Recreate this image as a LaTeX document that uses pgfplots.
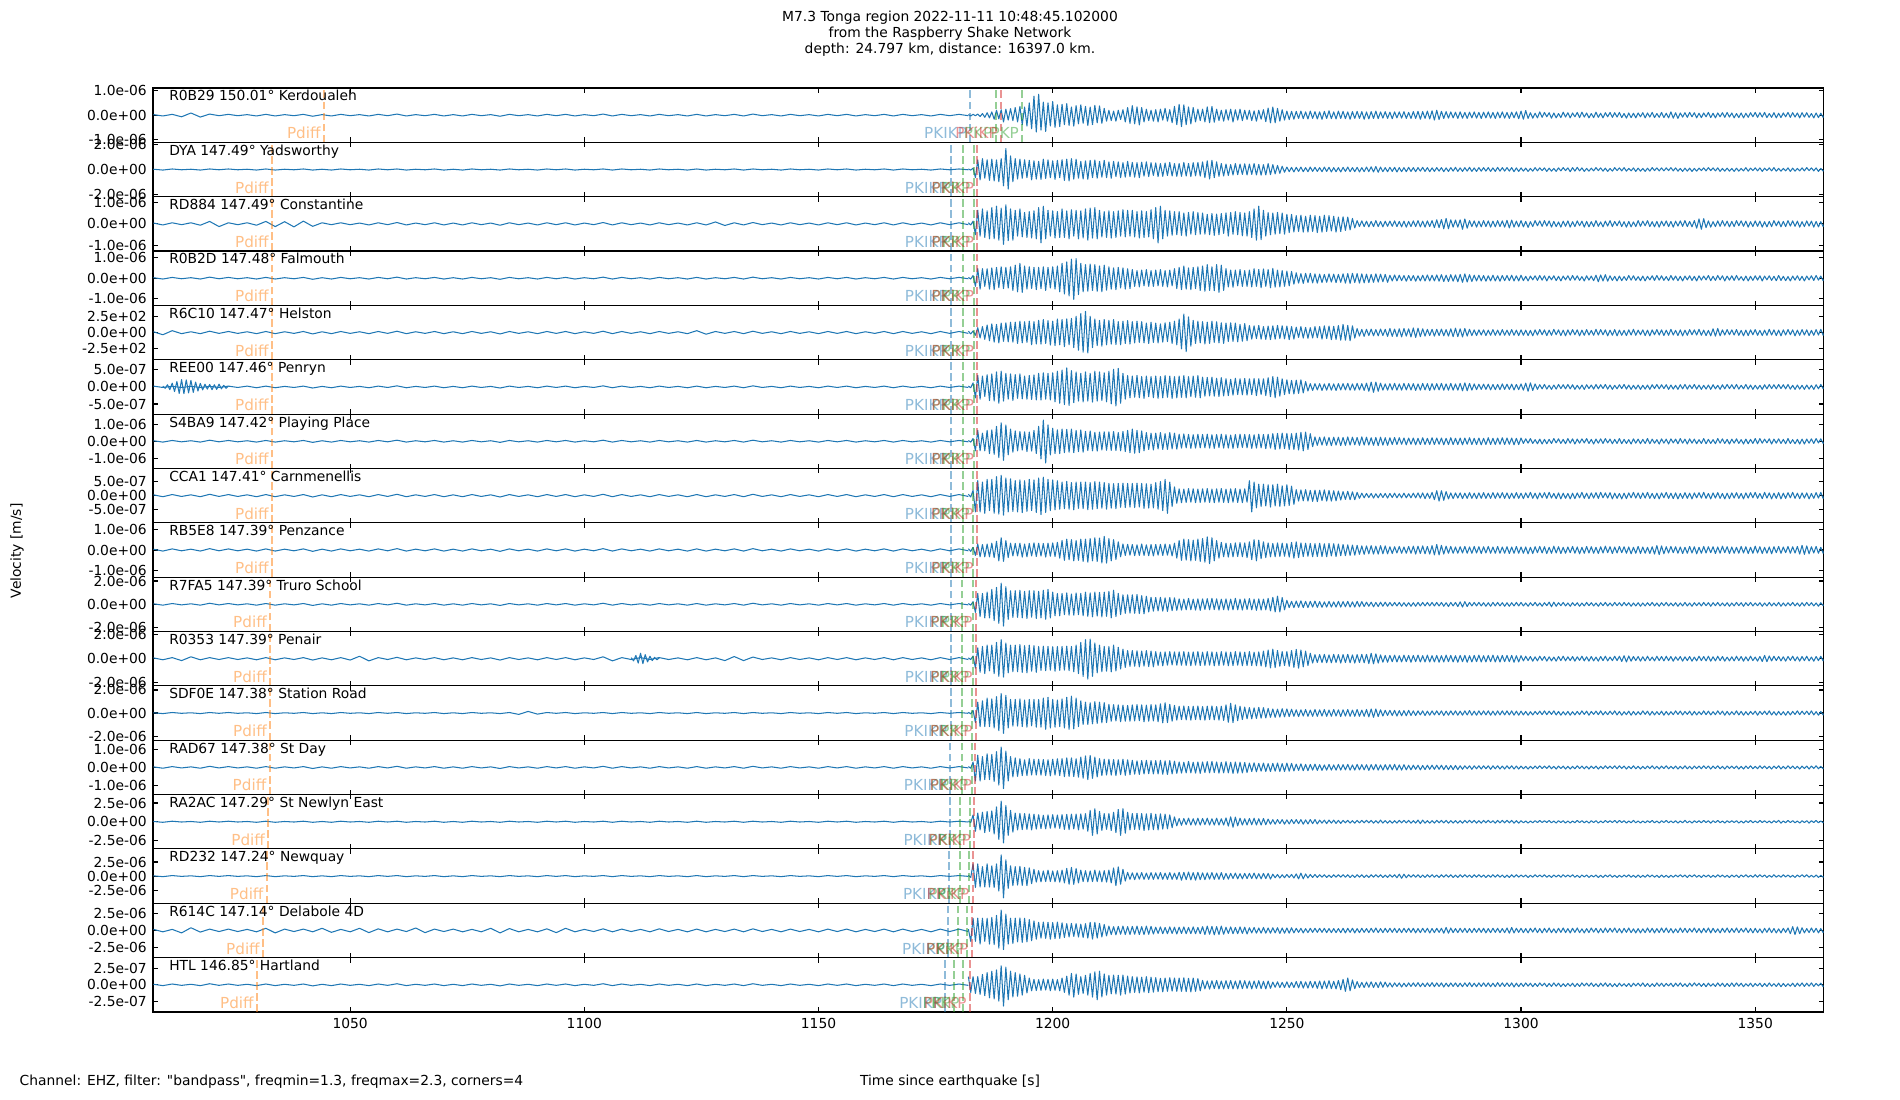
\documentclass[border=0pt]{standalone}
\usepackage{fontspec}
\setmainfont{DejaVu Sans}[Ligatures=TeXOff]
\usepackage{pgfplots}
\usepackage{pgfplotstable}
\pgfplotsset{compat=1.18}
\definecolor{wf}{HTML}{1F77B4}
\definecolor{orng}{HTML}{FF7F0E}
\definecolor{blu}{HTML}{1F77B4}
\definecolor{grn}{HTML}{2CA02C}
\definecolor{rd}{HTML}{D62728}

% ---------- pre-arrival noise, samples every 2 s from 1008 s ----------
\pgfplotstableread[header=false,row sep=\\]{
2\\-3\\3\\-2\\2\\-3\\4\\-2\\3\\-2\\2\\-3\\3\\-3\\2\\-2\\3\\-4\\2\\-3\\
3\\-2\\2\\-3\\3\\-2\\4\\-3\\2\\-2\\3\\-3\\2\\-3\\3\\-2\\2\\-4\\3\\-2\\
2\\-3\\3\\-2\\3\\-3\\2\\-2\\4\\-3\\3\\-2\\2\\-3\\3\\-2\\2\\-3\\3\\-3\\
2\\-2\\3\\-3\\4\\-2\\2\\-3\\3\\-2\\2\\-3\\3\\-2\\3\\-3\\2\\-2\\3\\-3\\
3\\-2\\2\\-3\\3\\-2\\3\\-2\\
}\nA
\pgfplotstableread[header=false,row sep=\\]{
1\\-2\\2\\-1\\1\\-2\\2\\-1\\2\\-1\\1\\-2\\2\\-2\\1\\-1\\2\\-2\\1\\-2\\
2\\-1\\1\\-2\\2\\-1\\2\\-2\\1\\-1\\2\\-2\\1\\-2\\2\\-1\\1\\-2\\2\\-1\\
1\\-2\\2\\-1\\2\\-2\\1\\-1\\2\\-2\\2\\-1\\1\\-2\\2\\-1\\1\\-2\\2\\-2\\
1\\-1\\2\\-2\\2\\-1\\1\\-2\\2\\-1\\1\\-2\\2\\-1\\2\\-2\\1\\-1\\2\\-2\\
2\\-1\\1\\-2\\2\\-1\\2\\-1\\
}\nB
\pgfplotstableread[header=false,row sep=\\]{
3\\-4\\4\\-3\\3\\-4\\5\\-3\\4\\-3\\3\\-4\\4\\-4\\3\\-3\\4\\-5\\3\\-4\\
4\\-3\\3\\-4\\4\\-3\\5\\-4\\3\\-3\\4\\-4\\3\\-4\\4\\-3\\3\\-5\\4\\-3\\
3\\-4\\4\\-3\\4\\-4\\3\\-3\\5\\-4\\4\\-3\\3\\-4\\4\\-3\\3\\-4\\4\\-4\\
3\\-3\\4\\-4\\5\\-3\\3\\-4\\4\\-3\\3\\-4\\4\\-3\\4\\-4\\3\\-3\\4\\-4\\
4\\-3\\3\\-4\\4\\-3\\4\\-3\\
}\nC
\pgfplotstableread[header=false,row sep=\\]{
2\\-3\\3\\-6\\8\\-7\\4\\-2\\3\\-2\\2\\-3\\3\\-3\\2\\-2\\3\\-4\\2\\-3\\
3\\-2\\2\\-3\\3\\-2\\4\\-3\\2\\-2\\3\\-3\\2\\-3\\3\\-2\\2\\-4\\3\\-2\\
2\\-3\\3\\-2\\3\\-3\\2\\-2\\4\\-3\\3\\-2\\2\\-3\\3\\-2\\2\\-3\\3\\-3\\
2\\-2\\3\\-3\\4\\-2\\2\\-3\\3\\-2\\2\\-3\\3\\-2\\3\\-3\\2\\-2\\3\\-3\\
3\\-2\\2\\-3\\3\\-2\\3\\-2\\
}\nPA
\pgfplotstableread[header=false,row sep=\\]{
3\\-4\\4\\-3\\4\\-5\\9\\-10\\4\\-3\\4\\-5\\9\\-10\\8\\-11\\10\\-9\\4\\-3\\
4\\-3\\3\\-4\\4\\-3\\5\\-4\\3\\-3\\4\\-4\\3\\-4\\4\\-3\\3\\-5\\4\\-3\\
3\\-4\\4\\-3\\4\\-4\\3\\-3\\5\\-4\\4\\-3\\3\\-4\\4\\-3\\3\\-4\\4\\-4\\
7\\-6\\4\\-4\\5\\-3\\3\\-4\\4\\-3\\3\\-4\\4\\-3\\4\\-4\\3\\-3\\4\\-4\\
4\\-3\\3\\-4\\4\\-3\\4\\-3\\
}\nPC
\pgfplotstableread[header=false,row sep=\\]{
3\\-8\\7\\-4\\3\\-4\\5\\-3\\4\\-3\\3\\-4\\4\\-4\\3\\-3\\4\\-5\\3\\-4\\
4\\-3\\3\\-4\\4\\-3\\5\\-4\\3\\-3\\4\\-4\\3\\-4\\4\\-3\\3\\-5\\4\\-3\\
3\\-4\\4\\-3\\4\\-4\\3\\-3\\5\\-4\\4\\-3\\3\\-4\\4\\-3\\3\\-4\\7\\-6\\
4\\-3\\4\\-4\\5\\-3\\3\\-4\\4\\-3\\3\\-4\\4\\-3\\4\\-4\\3\\-3\\4\\-4\\
4\\-3\\3\\-4\\4\\-3\\4\\-3\\
}\nPE
\pgfplotstableread[header=false,row sep=\\]{
3\\-2\\2\\-2\\2\\-2\\2\\-2\\3\\-2\\3\\-3\\3\\-3\\2\\-2\\3\\-4\\2\\-3\\
3\\-2\\2\\-3\\3\\-2\\4\\-3\\2\\-2\\3\\-3\\2\\-3\\3\\-2\\2\\-4\\3\\-2\\
2\\-3\\3\\-2\\3\\-3\\2\\-2\\4\\-3\\3\\-2\\2\\-3\\3\\-2\\2\\-3\\3\\-3\\
2\\-2\\3\\-3\\4\\-2\\2\\-3\\3\\-2\\2\\-3\\3\\-2\\3\\-3\\2\\-2\\3\\-3\\
3\\-2\\2\\-3\\3\\-2\\3\\-2\\
}\nPF
\pgfplotstableread[header=false,row sep=\\]{
3\\-4\\4\\-7\\7\\-4\\4\\-3\\4\\-3\\3\\-4\\4\\-4\\3\\-3\\4\\-5\\3\\-4\\
4\\-5\\9\\-8\\4\\-3\\5\\-4\\3\\-3\\4\\-4\\3\\-4\\4\\-3\\3\\-5\\4\\-3\\
3\\-4\\4\\-3\\4\\-4\\3\\-3\\7\\-8\\4\\-3\\4\\-3\\4\\-3\\3\\-4\\4\\-4\\
3\\-7\\8\\-7\\6\\-3\\3\\-4\\4\\-3\\3\\-4\\4\\-3\\4\\-4\\3\\-3\\4\\-4\\
4\\-3\\3\\-4\\4\\-3\\4\\-3\\
}\nPK
\pgfplotstableread[header=false,row sep=\\]{
1\\-2\\2\\-1\\1\\-2\\2\\-1\\2\\-1\\1\\-2\\2\\-2\\1\\-1\\2\\-2\\1\\-2\\
2\\-1\\1\\-2\\2\\-1\\2\\-2\\1\\-1\\2\\-2\\1\\-2\\2\\-1\\1\\-2\\2\\-5\\
6\\-4\\2\\-1\\2\\-2\\1\\-1\\2\\-2\\2\\-1\\1\\-2\\2\\-1\\1\\-2\\2\\-2\\
1\\-1\\2\\-2\\2\\-1\\1\\-2\\2\\-1\\1\\-2\\2\\-1\\2\\-2\\1\\-1\\2\\-2\\
2\\-1\\1\\-2\\2\\-1\\2\\-1\\
}\nPL
\pgfplotstableread[header=false,row sep=\\]{
4\\-5\\4\\-9\\10\\-6\\5\\-4\\5\\-4\\4\\-5\\8\\-9\\5\\-4\\5\\-5\\8\\-7\\
4\\-5\\8\\-8\\6\\-5\\5\\-4\\9\\-8\\5\\-4\\5\\-5\\4\\-5\\8\\-9\\7\\-5\\
4\\-5\\6\\-8\\8\\-5\\4\\-4\\6\\-5\\5\\-4\\4\\-5\\6\\-4\\4\\-5\\5\\-5\\
4\\-4\\5\\-5\\6\\-4\\4\\-5\\5\\-4\\4\\-5\\5\\-4\\5\\-5\\4\\-4\\5\\-5\\
5\\-4\\4\\-5\\5\\-4\\5\\-4\\
}\nPP
% ---------- short bursts in the pre-arrival noise, every 0.5 s ----------
\pgfplotstableread[header=false,row sep=\\]{
3\\-5\\8\\-10\\14\\-17\\20\\-24\\27\\-25\\26\\-22\\24\\-20\\18\\-15\\13\\-11\\10\\-8\\9\\-10\\8\\-9\\10\\-7\\6\\-5\\3\\
}\bPF
\pgfplotstableread[header=false,row sep=\\]{
4\\-8\\12\\-16\\20\\-18\\15\\-12\\9\\-7\\5\\-4\\3\\
}\bPK

% ---------- signal: every 0.5 s from 1182 s to 1365 s ----------
\pgfplotstableread[header=false,row sep=\\]{
2\\-3\\3\\-2\\4\\-5\\6\\-8\\9\\-10\\
12\\-15\\18\\-14\\20\\-25\\22\\-18\\24\\-20\\
28\\-25\\32\\-35\\30\\-40\\45\\-50\\70\\-62\\
77\\-55\\48\\-60\\45\\-40\\50\\-45\\38\\-42\\
40\\-35\\42\\-38\\30\\-40\\35\\-32\\38\\-30\\
32\\-38\\30\\-35\\36\\-28\\34\\-30\\25\\-22\\
18\\-20\\15\\-22\\18\\-16\\20\\-25\\28\\-30\\
35\\-32\\30\\-36\\28\\-25\\22\\-20\\18\\-22\\
20\\-25\\22\\-18\\25\\-22\\20\\-28\\32\\-35\\
40\\-42\\38\\-35\\30\\-32\\28\\-25\\22\\-20\\
22\\-25\\30\\-28\\32\\-26\\22\\-20\\18\\-22\\
20\\-18\\22\\-25\\20\\-18\\22\\-20\\18\\-16\\
18\\-20\\16\\-22\\18\\-15\\20\\-24\\26\\-28\\
30\\-28\\25\\-22\\20\\-18\\15\\-16\\14\\-15\\
14\\-12\\15\\-13\\12\\-14\\15\\-12\\13\\-14\\
12\\-15\\14\\-12\\16\\-13\\12\\-14\\15\\-12\\
14\\-13\\12\\-15\\13\\-12\\14\\-12\\13\\-15\\
12\\-14\\13\\-12\\15\\-13\\12\\-11\\13\\-12\\
11\\-13\\12\\-10\\12\\-11\\13\\-12\\10\\-12\\
13\\-12\\14\\-15\\13\\-12\\15\\-14\\16\\-18\\
18\\-16\\14\\-12\\13\\-11\\12\\-10\\11\\-12\\
12\\-11\\10\\-12\\11\\-10\\12\\-11\\10\\-12\\
11\\-10\\12\\-11\\10\\-12\\11\\-10\\12\\-11\\
10\\-12\\11\\-10\\12\\-13\\15\\
-15\\17\\-12\\9\\-11\\7\\-10\\12\\-8\\10\\
-6\\9\\-11\\8\\-10\\6\\-9\\11\\-7\\9\\
-10\\8\\-6\\10\\-9\\11\\-7\\8\\-10\\6\\
-9\\11\\-8\\7\\-10\\9\\-6\\10\\-8\\9\\
-7\\10\\-9\\6\\-11\\8\\-9\\7\\-10\\8\\
-6\\9\\-10\\8\\-7\\10\\-9\\6\\-8\\10\\
-9\\7\\-10\\12\\-11\\9\\-12\\8\\-7\\9\\
-8\\10\\-6\\9\\-10\\7\\-9\\8\\-6\\10\\
-9\\7\\-10\\8\\-6\\9\\-8\\10\\-7\\8\\
-10\\6\\-9\\8\\-10\\7\\-8\\9\\-6\\10\\
-8\\9\\-7\\10\\-9\\6\\-8\\9\\-10\\7\\
-9\\8\\-6\\10\\-8\\9\\-7\\8\\-10\\9\\
-7\\9\\-8\\6\\-10\\8\\-9\\7\\-8\\9\\
}\sigA
\pgfplotstableread[header=false,row sep=\\]{
2\\-2\\5\\-30\\35\\-38\\40\\-32\\36\\-40\\
38\\-42\\35\\-45\\40\\-60\\77\\-72\\50\\-45\\
40\\-35\\38\\-32\\36\\-30\\34\\-38\\32\\-35\\
30\\-36\\38\\-33\\35\\-30\\32\\-36\\34\\-30\\
36\\-40\\38\\-42\\40\\-35\\38\\-32\\30\\-35\\
32\\-36\\34\\-30\\35\\-32\\30\\-28\\34\\-30\\
28\\-32\\30\\-26\\28\\-30\\25\\-28\\30\\-26\\
26\\-28\\25\\-30\\27\\-24\\28\\-26\\25\\-22\\
24\\-26\\22\\-25\\24\\-22\\26\\-24\\22\\-25\\
22\\-25\\26\\-24\\22\\-26\\25\\-23\\26\\-24\\
28\\-30\\32\\-35\\34\\-30\\28\\-25\\22\\-24\\
20\\-22\\18\\-20\\22\\-19\\20\\-18\\21\\-20\\
20\\-18\\22\\-20\\19\\-21\\18\\-20\\22\\-19\\
18\\-16\\15\\-14\\12\\-10\\9\\-8\\8\\-9\\
8\\-7\\9\\-8\\7\\-8\\9\\-7\\8\\-7\\
7\\-8\\9\\-7\\8\\-9\\7\\-8\\7\\-9\\
8\\-7\\9\\-8\\7\\-8\\8\\-9\\7\\-8\\
9\\-8\\10\\-9\\11\\-10\\9\\-8\\7\\-8\\
8\\-7\\8\\-9\\7\\-8\\7\\-8\\8\\-7\\
7\\-8\\7\\-6\\8\\-7\\7\\-8\\6\\-7\\
7\\-6\\7\\-8\\6\\-7\\7\\-6\\8\\-7\\
6\\-7\\7\\-6\\8\\-7\\6\\-7\\7\\-6\\
7\\-6\\7\\-7\\6\\-7\\8\\-6\\7\\-6\\
7\\-6\\7\\-8\\6\\-7\\6\\
-6\\5\\-7\\4\\-6\\7\\-5\\6\\-4\\6\\
-7\\5\\-6\\4\\-7\\6\\-5\\7\\-4\\6\\
-8\\7\\-6\\8\\-5\\6\\-7\\4\\-6\\5\\
-5\\7\\-4\\6\\-6\\5\\-7\\4\\-6\\7\\
-4\\6\\-5\\7\\-6\\4\\-5\\6\\-7\\5\\
-6\\4\\-7\\5\\-6\\7\\-4\\6\\-5\\6\\
-5\\6\\-4\\7\\-5\\6\\-6\\4\\-7\\5\\
-6\\5\\-7\\4\\-6\\5\\-4\\6\\-5\\7\\
-4\\6\\-5\\6\\-7\\4\\-6\\5\\-6\\4\\
-7\\5\\-6\\4\\-5\\7\\-6\\5\\-4\\6\\
-5\\6\\-7\\5\\-4\\6\\-5\\7\\-6\\4\\
-6\\4\\-5\\6\\-7\\5\\-6\\4\\-5\\6\\
-5\\7\\-4\\6\\-5\\6\\-7\\4\\-6\\5\\
}\sigB
\pgfplotstableread[header=false,row sep=\\]{
4\\-4\\10\\-40\\50\\-45\\55\\-50\\48\\-55\\
60\\-55\\65\\-60\\58\\-75\\70\\-62\\55\\-60\\
50\\-45\\55\\-48\\42\\-50\\45\\-52\\48\\-55\\
60\\-70\\65\\-55\\50\\-45\\48\\-52\\45\\-50\\
55\\-50\\48\\-55\\52\\-45\\50\\-55\\48\\-52\\
55\\-60\\58\\-52\\60\\-55\\50\\-48\\45\\-50\\
48\\-52\\45\\-50\\48\\-45\\52\\-48\\50\\-45\\
50\\-48\\45\\-52\\48\\-50\\45\\-48\\52\\-55\\
60\\-70\\65\\-55\\50\\-45\\48\\-42\\45\\-40\\
45\\-42\\40\\-45\\42\\-38\\45\\-40\\42\\-38\\
40\\-38\\35\\-40\\38\\-42\\36\\-40\\38\\-35\\
40\\-45\\42\\-38\\45\\-40\\42\\-44\\40\\-45\\
45\\-50\\55\\-60\\65\\-58\\50\\-45\\42\\-40\\
40\\-38\\42\\-36\\40\\-38\\35\\-32\\35\\-30\\
30\\-28\\32\\-30\\28\\-30\\32\\-28\\30\\-32\\
28\\-30\\32\\-28\\30\\-26\\28\\-30\\25\\-28\\
26\\-24\\25\\-22\\20\\-15\\12\\-10\\11\\-10\\
10\\-11\\9\\-10\\12\\-10\\9\\-11\\10\\-9\\
10\\-9\\11\\-10\\9\\-11\\10\\-12\\9\\-10\\
11\\-10\\12\\-11\\10\\-12\\11\\-10\\12\\-14\\
15\\-14\\16\\-18\\20\\-18\\15\\-12\\14\\-12\\
15\\-20\\18\\-16\\12\\-10\\11\\-12\\10\\-11\\
12\\-10\\11\\-12\\10\\-11\\12\\-10\\11\\-12\\
13\\-15\\14\\-12\\10\\-11\\12\\
-11\\9\\-13\\8\\-10\\12\\-7\\11\\-9\\12\\
-8\\11\\-12\\9\\-10\\7\\-12\\10\\-9\\11\\
-12\\8\\-10\\11\\-7\\10\\-12\\9\\-11\\8\\
-10\\12\\-9\\7\\-11\\10\\-8\\12\\-10\\9\\
-7\\11\\-10\\8\\-12\\9\\-11\\7\\-10\\12\\
-9\\10\\-7\\12\\-10\\8\\-11\\9\\-12\\10\\
-8\\11\\-10\\9\\-12\\10\\-8\\11\\-9\\12\\
-10\\9\\-11\\12\\-16\\18\\-20\\19\\-14\\11\\
-12\\8\\-10\\11\\-9\\12\\-8\\10\\-11\\9\\
-10\\12\\-7\\11\\-9\\10\\-12\\8\\-10\\11\\
-9\\10\\-12\\8\\-11\\9\\-10\\12\\-7\\10\\
-11\\9\\-10\\12\\-8\\11\\-9\\10\\-12\\8\\
-10\\11\\-8\\10\\-12\\9\\-11\\8\\-10\\11\\
}\sigC
\pgfplotstableread[header=false,row sep=\\]{
3\\-3\\10\\-30\\35\\-40\\35\\-30\\35\\-40\\
38\\-42\\40\\-35\\42\\-38\\40\\-36\\42\\-45\\
48\\-50\\55\\-52\\45\\-40\\42\\-38\\40\\-42\\
40\\-38\\42\\-45\\40\\-36\\42\\-40\\45\\-50\\
55\\-58\\60\\-65\\70\\-78\\72\\-60\\55\\-50\\
50\\-48\\52\\-45\\50\\-48\\45\\-50\\48\\-44\\
42\\-40\\38\\-42\\40\\-36\\38\\-40\\35\\-38\\
32\\-30\\28\\-32\\30\\-28\\32\\-30\\28\\-30\\
30\\-28\\32\\-30\\28\\-32\\30\\-28\\35\\-38\\
40\\-42\\45\\-40\\38\\-42\\40\\-38\\42\\-45\\
45\\-48\\50\\-45\\42\\-46\\50\\-52\\48\\-45\\
35\\-32\\30\\-33\\30\\-28\\32\\-30\\28\\-30\\
30\\-32\\35\\-30\\32\\-35\\34\\-30\\32\\-35\\
36\\-33\\30\\-32\\28\\-30\\26\\-28\\25\\-22\\
20\\-18\\17\\-19\\18\\-16\\18\\-17\\16\\-18\\
15\\-16\\14\\-15\\16\\-14\\15\\-16\\14\\-15\\
16\\-18\\17\\-19\\18\\-16\\17\\-18\\16\\-17\\
15\\-16\\14\\-15\\16\\-14\\15\\-13\\14\\-15\\
11\\-10\\12\\-10\\11\\-9\\10\\-11\\10\\-9\\
10\\-11\\9\\-10\\11\\-10\\12\\-10\\11\\-10\\
12\\-11\\13\\-12\\11\\-12\\13\\-11\\12\\-13\\
14\\-15\\16\\-14\\13\\-12\\11\\-10\\11\\-10\\
10\\-11\\9\\-10\\11\\-10\\9\\-11\\10\\-9\\
10\\-9\\11\\-10\\9\\-10\\11\\
-9\\7\\-10\\8\\-6\\9\\-8\\10\\-7\\9\\
-10\\8\\-6\\9\\-9\\7\\-10\\8\\-6\\9\\
-8\\10\\-7\\9\\-8\\6\\-10\\9\\-7\\8\\
-9\\11\\-13\\12\\-10\\13\\-11\\9\\-8\\7\\
-10\\8\\-9\\6\\-8\\10\\-7\\9\\-8\\6\\
-9\\8\\-10\\7\\-6\\9\\-8\\10\\-7\\9\\
-8\\6\\-9\\10\\-7\\8\\-9\\7\\-10\\8\\
-6\\9\\-8\\7\\-10\\9\\-7\\8\\-6\\10\\
-9\\7\\-8\\10\\-6\\9\\-10\\8\\-7\\9\\
-8\\10\\-7\\6\\-9\\8\\-10\\7\\-8\\9\\
-7\\9\\-10\\8\\-6\\9\\-8\\7\\-9\\10\\
-8\\7\\-9\\6\\-10\\8\\-7\\9\\-8\\7\\
-10\\8\\-6\\9\\-8\\10\\-7\\8\\-9\\6\\
}\sigD
\pgfplotstableread[header=false,row sep=\\]{
5\\-5\\6\\-10\\18\\-20\\22\\-25\\28\\-30\\
32\\-35\\30\\-38\\35\\-32\\36\\-34\\38\\-35\\
38\\-40\\42\\-38\\40\\-36\\42\\-45\\40\\-42\\
45\\-42\\48\\-40\\44\\-46\\42\\-48\\50\\-45\\
48\\-52\\50\\-45\\52\\-55\\60\\-65\\70\\-72\\
78\\-75\\60\\-55\\50\\-48\\45\\-50\\48\\-45\\
45\\-42\\48\\-44\\40\\-45\\42\\-40\\44\\-42\\
40\\-38\\42\\-36\\40\\-38\\35\\-40\\38\\-36\\
35\\-38\\32\\-35\\36\\-33\\38\\-40\\42\\-45\\
50\\-60\\68\\-70\\58\\-50\\45\\-40\\42\\-38\\
40\\-42\\38\\-40\\42\\-36\\40\\-38\\36\\-40\\
35\\-33\\36\\-32\\35\\-34\\30\\-32\\33\\-30\\
26\\-24\\25\\-22\\26\\-24\\22\\-25\\24\\-26\\
25\\-24\\26\\-22\\25\\-23\\24\\-26\\22\\-24\\
20\\-18\\22\\-20\\19\\-21\\18\\-20\\22\\-19\\
22\\-24\\25\\-22\\24\\-26\\23\\-25\\26\\-28\\
30\\-28\\26\\-30\\25\\-20\\15\\-13\\12\\-14\\
12\\-11\\13\\-12\\11\\-12\\13\\-11\\12\\-14\\
15\\-14\\13\\-15\\14\\-16\\15\\-13\\14\\-16\\
17\\-18\\16\\-15\\14\\-13\\12\\-11\\12\\-13\\
12\\-11\\13\\-12\\11\\-13\\14\\-15\\16\\-15\\
14\\-16\\15\\-13\\12\\-11\\10\\-11\\10\\-9\\
10\\-11\\9\\-10\\11\\-10\\9\\-10\\11\\-10\\
9\\-10\\11\\-10\\9\\-11\\10\\
-10\\9\\-11\\8\\-12\\10\\-9\\11\\-8\\10\\
-11\\9\\-10\\12\\-8\\10\\-11\\9\\-12\\10\\
-9\\11\\-8\\10\\-12\\9\\-10\\11\\-9\\8\\
-10\\12\\-9\\11\\-8\\10\\-12\\9\\-10\\11\\
-12\\9\\-10\\8\\-11\\10\\-9\\12\\-10\\9\\
-8\\10\\-11\\9\\-12\\10\\-8\\11\\-9\\10\\
-11\\9\\-10\\12\\-9\\8\\-11\\10\\-12\\9\\
-10\\11\\-8\\10\\-9\\12\\-10\\9\\-11\\8\\
-12\\14\\-13\\15\\-12\\10\\-9\\11\\-8\\10\\
-9\\11\\-10\\8\\-12\\9\\-11\\10\\-8\\11\\
-10\\8\\-11\\9\\-10\\12\\-9\\10\\-11\\9\\
-12\\10\\-9\\11\\-8\\10\\-12\\9\\-10\\11\\
-9\\10\\-11\\8\\-10\\11\\-9\\12\\-10\\9\\
}\sigE
\pgfplotstableread[header=false,row sep=\\]{
3\\-3\\15\\-40\\42\\-45\\40\\-35\\45\\-50\\
48\\-52\\55\\-60\\58\\-52\\50\\-45\\48\\-50\\
45\\-42\\48\\-44\\40\\-45\\42\\-46\\44\\-48\\
50\\-48\\52\\-45\\50\\-48\\52\\-55\\58\\-60\\
62\\-65\\70\\-68\\60\\-58\\55\\-52\\50\\-55\\
55\\-52\\50\\-56\\58\\-52\\55\\-50\\52\\-55\\
58\\-62\\65\\-70\\68\\-60\\50\\-45\\42\\-40\\
40\\-38\\42\\-40\\38\\-42\\40\\-36\\38\\-40\\
40\\-42\\38\\-40\\42\\-38\\40\\-42\\38\\-40\\
40\\-38\\42\\-40\\38\\-36\\40\\-38\\42\\-40\\
36\\-34\\35\\-33\\36\\-34\\32\\-35\\34\\-33\\
30\\-32\\28\\-30\\32\\-28\\30\\-29\\31\\-30\\
30\\-28\\31\\-32\\30\\-28\\30\\-32\\34\\-36\\
38\\-40\\36\\-34\\30\\-28\\26\\-25\\24\\-26\\
25\\-24\\26\\-22\\20\\-15\\12\\-13\\12\\-11\\
12\\-13\\11\\-12\\13\\-12\\11\\-13\\12\\-11\\
12\\-11\\13\\-12\\11\\-12\\13\\-11\\12\\-13\\
14\\-16\\18\\-20\\18\\-16\\14\\-12\\11\\-12\\
12\\-11\\13\\-12\\11\\-12\\13\\-11\\12\\-11\\
12\\-13\\11\\-12\\13\\-11\\12\\-13\\12\\-11\\
12\\-11\\13\\-12\\11\\-12\\13\\-12\\11\\-12\\
13\\-14\\15\\-14\\13\\-12\\11\\-10\\10\\-9\\
10\\-9\\10\\-11\\9\\-10\\9\\-10\\11\\-9\\
10\\-9\\10\\-11\\9\\-10\\11\\
-12\\14\\-16\\15\\-13\\11\\-9\\8\\-7\\9\\
-8\\6\\-9\\7\\-8\\9\\-6\\8\\-7\\9\\
-7\\8\\-9\\6\\-8\\7\\-9\\8\\-6\\7\\
-8\\9\\-7\\8\\-6\\9\\-8\\7\\-9\\6\\
-7\\8\\-6\\9\\-8\\7\\-9\\6\\-8\\7\\
-9\\6\\-8\\7\\-9\\8\\-6\\9\\-7\\8\\
-6\\8\\-9\\7\\-8\\6\\-9\\8\\-7\\9\\
-8\\7\\-6\\9\\-8\\7\\-9\\6\\-8\\7\\
-9\\8\\-7\\6\\-9\\8\\-7\\9\\-6\\8\\
-7\\9\\-8\\6\\-7\\9\\-8\\7\\-9\\6\\
-8\\6\\-9\\8\\-7\\9\\-6\\8\\-7\\9\\
-6\\8\\-7\\9\\-8\\6\\-9\\7\\-8\\6\\
-9\\7\\-8\\6\\-9\\8\\-7\\9\\-6\\8\\
}\sigF
\pgfplotstableread[header=false,row sep=\\]{
3\\-3\\10\\-35\\40\\-35\\30\\-35\\40\\-45\\
42\\-48\\55\\-60\\68\\-70\\60\\-50\\45\\-40\\
38\\-35\\36\\-32\\35\\-38\\34\\-36\\40\\-45\\
55\\-65\\78\\-80\\60\\-50\\48\\-45\\42\\-45\\
45\\-42\\44\\-40\\45\\-42\\40\\-38\\42\\-40\\
36\\-34\\38\\-35\\33\\-36\\34\\-32\\35\\-33\\
35\\-33\\36\\-34\\32\\-35\\36\\-38\\40\\-42\\
45\\-44\\40\\-42\\38\\-35\\32\\-30\\30\\-32\\
30\\-28\\32\\-30\\28\\-30\\32\\-28\\30\\-29\\
26\\-25\\27\\-24\\25\\-26\\24\\-25\\26\\-24\\
25\\-24\\26\\-25\\24\\-26\\25\\-23\\26\\-25\\
24\\-25\\23\\-26\\25\\-24\\26\\-23\\25\\-24\\
25\\-26\\24\\-25\\26\\-24\\25\\-27\\26\\-25\\
28\\-30\\29\\-28\\30\\-27\\29\\-30\\28\\-30\\
30\\-32\\33\\-35\\34\\-30\\28\\-20\\16\\-15\\
15\\-14\\16\\-15\\14\\-16\\15\\-14\\15\\-16\\
14\\-15\\16\\-14\\15\\-13\\14\\-15\\16\\-14\\
15\\-14\\13\\-15\\14\\-16\\15\\-14\\13\\-15\\
13\\-12\\14\\-12\\13\\-11\\12\\-13\\12\\-11\\
12\\-13\\11\\-12\\13\\-12\\11\\-12\\13\\-12\\
12\\-11\\12\\-13\\11\\-12\\13\\-12\\11\\-12\\
12\\-13\\12\\-11\\13\\-12\\11\\-12\\12\\-13\\
11\\-12\\13\\-12\\11\\-12\\12\\-11\\13\\-12\\
12\\-11\\12\\-13\\11\\-12\\12\\
-8\\9\\-7\\10\\-8\\6\\-9\\8\\-10\\7\\
-9\\7\\-8\\10\\-6\\9\\-8\\7\\-9\\10\\
-7\\9\\-10\\8\\-7\\9\\-6\\10\\-8\\7\\
-10\\8\\-7\\9\\-8\\10\\-6\\8\\-9\\7\\
-8\\10\\-9\\7\\-8\\6\\-10\\9\\-7\\8\\
-9\\7\\-8\\10\\-9\\8\\-7\\6\\-10\\9\\
-7\\8\\-10\\9\\-6\\8\\-9\\10\\-7\\8\\
-10\\9\\-7\\8\\-9\\6\\-8\\10\\-9\\7\\
-8\\6\\-9\\10\\-7\\9\\-8\\7\\-10\\8\\
-7\\9\\-8\\6\\-10\\8\\-9\\7\\-8\\10\\
-9\\10\\-7\\8\\-6\\9\\-10\\8\\-7\\9\\
-8\\7\\-9\\10\\-8\\6\\-9\\7\\-10\\8\\
-10\\8\\-7\\9\\-8\\10\\-6\\9\\-8\\7\\
}\sigG
\pgfplotstableread[header=false,row sep=\\]{
5\\-5\\20\\-60\\55\\-60\\50\\-65\\60\\-55\\
60\\-65\\70\\-68\\75\\-72\\65\\-60\\62\\-58\\
55\\-60\\58\\-62\\55\\-58\\60\\-55\\58\\-62\\
65\\-70\\68\\-62\\60\\-55\\58\\-52\\55\\-50\\
50\\-48\\52\\-50\\48\\-52\\50\\-47\\50\\-48\\
50\\-52\\48\\-50\\52\\-48\\50\\-46\\48\\-50\\
45\\-46\\44\\-48\\45\\-43\\46\\-44\\45\\-42\\
45\\-44\\46\\-42\\45\\-47\\44\\-46\\42\\-45\\
48\\-50\\52\\-55\\60\\-65\\50\\-40\\32\\-28\\
25\\-26\\24\\-25\\26\\-24\\25\\-26\\24\\-25\\
25\\-24\\26\\-25\\24\\-26\\25\\-24\\26\\-25\\
24\\-26\\25\\-24\\26\\-25\\24\\-26\\25\\-24\\
55\\-60\\50\\-45\\42\\-40\\42\\-38\\40\\-42\\
40\\-38\\42\\-40\\36\\-38\\40\\-36\\35\\-32\\
22\\-20\\21\\-19\\22\\-20\\19\\-21\\20\\-22\\
20\\-18\\21\\-20\\19\\-20\\18\\-19\\17\\-16\\
15\\-14\\16\\-15\\14\\-15\\12\\-10\\9\\-8\\
8\\-7\\8\\-9\\7\\-8\\8\\-7\\8\\-9\\
8\\-7\\9\\-8\\7\\-8\\9\\-8\\7\\-8\\
9\\-8\\10\\-9\\10\\-11\\9\\-10\\12\\-15\\
18\\-20\\18\\-17\\15\\-12\\10\\-11\\10\\-9\\
10\\-11\\9\\-10\\11\\-10\\9\\-11\\10\\-10\\
11\\-10\\9\\-10\\11\\-10\\10\\-9\\11\\-10\\
10\\-11\\9\\-10\\11\\-10\\9\\
-11\\10\\-8\\12\\-10\\9\\-12\\10\\-8\\11\\
-10\\12\\-9\\8\\-11\\10\\-12\\9\\-10\\8\\
-12\\9\\-11\\10\\-8\\12\\-10\\9\\-11\\10\\
-9\\11\\-10\\12\\-8\\10\\-9\\11\\-12\\9\\
-10\\8\\-12\\9\\-11\\10\\-8\\12\\-9\\10\\
-11\\10\\-9\\12\\-10\\8\\-11\\9\\-12\\10\\
-8\\12\\-10\\9\\-11\\10\\-12\\8\\-10\\11\\
-10\\9\\-12\\10\\-8\\11\\-9\\12\\-10\\8\\
-12\\10\\-9\\11\\-10\\8\\-12\\9\\-11\\10\\
-9\\11\\-10\\8\\-12\\10\\-9\\11\\-8\\12\\
-10\\8\\-11\\12\\-9\\10\\-12\\9\\-10\\11\\
-12\\9\\-10\\11\\-8\\12\\-10\\9\\-11\\10\\
-9\\10\\-12\\8\\-10\\11\\-9\\12\\-10\\9\\
}\sigH
\pgfplotstableread[header=false,row sep=\\]{
5\\-5\\10\\-20\\22\\-25\\20\\-25\\22\\-25\\
25\\-28\\32\\-40\\45\\-42\\35\\-28\\25\\-22\\
24\\-22\\25\\-26\\22\\-25\\24\\-22\\26\\-24\\
25\\-22\\24\\-26\\25\\-23\\26\\-24\\28\\-30\\
35\\-38\\40\\-36\\38\\-40\\35\\-38\\40\\-42\\
40\\-45\\42\\-40\\45\\-42\\44\\-48\\50\\-48\\
42\\-40\\38\\-35\\30\\-25\\22\\-20\\21\\-19\\
20\\-21\\19\\-20\\22\\-20\\19\\-21\\20\\-22\\
20\\-19\\21\\-20\\22\\-19\\20\\-22\\25\\-30\\
35\\-38\\40\\-37\\38\\-40\\36\\-38\\40\\-42\\
42\\-45\\48\\-50\\45\\-40\\35\\-30\\28\\-25\\
25\\-26\\24\\-25\\26\\-24\\27\\-25\\26\\-28\\
30\\-35\\38\\-40\\36\\-32\\30\\-28\\26\\-25\\
24\\-25\\26\\-24\\25\\-23\\24\\-26\\28\\-30\\
30\\-28\\26\\-24\\25\\-23\\24\\-25\\23\\-24\\
25\\-24\\23\\-25\\24\\-22\\23\\-24\\22\\-21\\
20\\-21\\19\\-20\\18\\-19\\17\\-16\\15\\-16\\
15\\-14\\16\\-15\\14\\-15\\16\\-14\\15\\-14\\
12\\-13\\12\\-11\\13\\-12\\11\\-12\\13\\-12\\
14\\-15\\14\\-13\\15\\-14\\13\\-15\\16\\-18\\
20\\-18\\17\\-15\\14\\-12\\13\\-12\\11\\-12\\
12\\-11\\13\\-12\\11\\-12\\13\\-11\\12\\-13\\
12\\-11\\13\\-12\\11\\-12\\13\\-12\\11\\-12\\
12\\-13\\11\\-12\\13\\-12\\11\\
-12\\11\\-14\\10\\-13\\12\\-10\\13\\-11\\12\\
-13\\10\\-12\\14\\-11\\12\\-13\\10\\-12\\11\\
-10\\13\\-12\\11\\-14\\10\\-12\\13\\-11\\12\\
-12\\10\\-13\\12\\-11\\14\\-10\\12\\-13\\11\\
-11\\13\\-10\\12\\-12\\11\\-14\\10\\-12\\13\\
-13\\11\\-12\\10\\-13\\12\\-15\\16\\-17\\15\\
-14\\12\\-11\\13\\-10\\12\\-12\\11\\-13\\10\\
-12\\13\\-11\\12\\-14\\10\\-12\\13\\-11\\12\\
-10\\12\\-13\\11\\-12\\14\\-10\\12\\-13\\11\\
-12\\10\\-12\\13\\-11\\12\\-13\\10\\-12\\14\\
-11\\12\\-13\\10\\-12\\11\\-14\\12\\-10\\13\\
-12\\11\\-10\\13\\-12\\12\\-11\\13\\-15\\17\\
-16\\15\\-14\\12\\-11\\13\\-12\\10\\-12\\11\\
}\sigI
\pgfplotstableread[header=false,row sep=\\]{
3\\-3\\10\\-30\\40\\-45\\40\\-50\\45\\-50\\
55\\-60\\62\\-70\\78\\-80\\65\\-55\\50\\-48\\
50\\-48\\52\\-50\\48\\-52\\50\\-47\\50\\-52\\
48\\-50\\52\\-55\\55\\-50\\45\\-42\\40\\-42\\
40\\-38\\42\\-40\\38\\-40\\42\\-38\\40\\-42\\
45\\-44\\42\\-46\\45\\-43\\44\\-46\\45\\-44\\
48\\-50\\52\\-45\\40\\-38\\35\\-33\\35\\-32\\
35\\-33\\36\\-34\\32\\-35\\30\\-28\\26\\-25\\
25\\-24\\26\\-25\\24\\-26\\25\\-23\\24\\-22\\
20\\-21\\19\\-20\\22\\-20\\19\\-21\\20\\-22\\
20\\-19\\21\\-20\\22\\-19\\20\\-21\\19\\-20\\
20\\-21\\19\\-20\\22\\-20\\19\\-21\\20\\-19\\
21\\-20\\19\\-22\\20\\-21\\19\\-20\\22\\-24\\
26\\-28\\30\\-28\\25\\-20\\15\\-12\\11\\-12\\
12\\-11\\13\\-12\\11\\-12\\11\\-10\\12\\-11\\
10\\-11\\9\\-10\\11\\-10\\9\\-10\\11\\-10\\
10\\-9\\11\\-10\\9\\-10\\11\\-9\\10\\-8\\
8\\-7\\8\\-9\\7\\-8\\8\\-7\\8\\-7\\
7\\-6\\7\\-6\\7\\-7\\6\\-7\\6\\-7\\
6\\-7\\7\\-6\\7\\-6\\7\\-6\\7\\-6\\
7\\-6\\7\\-7\\6\\-8\\7\\-6\\7\\-8\\
9\\-10\\10\\-8\\7\\-6\\7\\-6\\7\\-6\\
6\\-7\\6\\-7\\7\\-6\\7\\-6\\6\\-7\\
6\\-7\\6\\-6\\7\\-6\\7\\
-6\\5\\-7\\6\\-5\\7\\-6\\5\\-7\\6\\
-5\\8\\-9\\8\\-7\\6\\-5\\7\\-6\\5\\
-7\\6\\-5\\6\\-7\\5\\-6\\7\\-5\\6\\
-6\\5\\-7\\6\\-5\\7\\-6\\5\\-6\\7\\
-5\\6\\-6\\7\\-5\\6\\-7\\5\\-6\\6\\
-7\\5\\-6\\6\\-5\\7\\-6\\5\\-7\\6\\
-5\\7\\-6\\5\\-6\\6\\-7\\5\\-6\\7\\
-6\\5\\-7\\6\\-5\\6\\-6\\7\\-5\\6\\
-7\\6\\-5\\7\\-6\\5\\-6\\6\\-7\\5\\
-6\\7\\-5\\6\\-7\\6\\-5\\7\\-6\\5\\
-5\\6\\-7\\5\\-6\\7\\-6\\5\\-6\\7\\
-7\\5\\-6\\6\\-5\\7\\-6\\5\\-7\\6\\
-6\\7\\-5\\6\\-6\\5\\-7\\6\\-5\\6\\
}\sigJ
\pgfplotstableread[header=false,row sep=\\]{
3\\-3\\10\\-35\\40\\-50\\45\\-55\\50\\-45\\
50\\-55\\60\\-65\\70\\-68\\58\\-52\\50\\-48\\
50\\-48\\52\\-50\\48\\-52\\50\\-46\\48\\-50\\
45\\-43\\46\\-44\\45\\-42\\44\\-46\\45\\-43\\
45\\-42\\46\\-44\\45\\-48\\50\\-55\\60\\-65\\
70\\-75\\72\\-65\\58\\-52\\50\\-48\\45\\-46\\
45\\-48\\50\\-45\\42\\-38\\35\\-32\\30\\-28\\
30\\-28\\29\\-30\\28\\-27\\30\\-29\\28\\-30\\
26\\-25\\24\\-26\\25\\-24\\26\\-23\\25\\-24\\
25\\-24\\26\\-25\\24\\-26\\25\\-24\\26\\-25\\
24\\-25\\26\\-24\\25\\-26\\24\\-25\\26\\-24\\
25\\-26\\24\\-25\\26\\-24\\25\\-26\\24\\-25\\
26\\-25\\24\\-26\\25\\-27\\28\\-30\\32\\-34\\
35\\-33\\30\\-28\\26\\-25\\26\\-28\\30\\-32\\
34\\-35\\32\\-30\\28\\-25\\20\\-16\\15\\-14\\
15\\-14\\16\\-15\\14\\-15\\16\\-14\\15\\-16\\
15\\-14\\16\\-15\\14\\-16\\15\\-14\\16\\-15\\
16\\-18\\20\\-19\\18\\-16\\14\\-13\\12\\-13\\
12\\-11\\13\\-12\\11\\-12\\13\\-11\\12\\-13\\
12\\-11\\13\\-12\\11\\-12\\13\\-12\\11\\-12\\
12\\-13\\11\\-12\\13\\-11\\12\\-12\\11\\-13\\
12\\-11\\12\\-13\\11\\-12\\12\\-11\\13\\-12\\
11\\-12\\12\\-11\\13\\-12\\11\\-12\\12\\-11\\
12\\-11\\12\\-13\\11\\-12\\11\\
-8\\9\\-7\\8\\-9\\7\\-8\\9\\-6\\8\\
-9\\7\\-8\\6\\-9\\8\\-7\\9\\-8\\7\\
-7\\8\\-9\\7\\-6\\9\\-8\\7\\-9\\8\\
-8\\6\\-9\\8\\-7\\9\\-8\\6\\-7\\9\\
-7\\9\\-10\\11\\-12\\10\\-9\\8\\-7\\8\\
-9\\7\\-8\\9\\-7\\6\\-8\\9\\-7\\8\\
-8\\9\\-7\\8\\-9\\7\\-6\\8\\-9\\7\\
-7\\8\\-9\\6\\-8\\9\\-7\\8\\-8\\9\\
-9\\7\\-8\\9\\-7\\8\\-9\\6\\-8\\7\\
-8\\9\\-7\\8\\-9\\7\\-8\\9\\-7\\6\\
-9\\8\\-10\\12\\-11\\10\\-8\\9\\-7\\8\\
-8\\7\\-9\\8\\-6\\9\\-8\\7\\-9\\8\\
-7\\9\\-8\\6\\-9\\8\\-7\\9\\-8\\7\\
}\sigK
\pgfplotstableread[header=false,row sep=\\]{
3\\-3\\10\\-35\\40\\-50\\45\\-50\\55\\-50\\
52\\-55\\60\\-65\\72\\-75\\65\\-55\\50\\-48\\
50\\-48\\52\\-50\\48\\-52\\50\\-47\\50\\-52\\
50\\-52\\55\\-60\\58\\-55\\50\\-52\\48\\-50\\
52\\-55\\58\\-60\\62\\-58\\55\\-50\\45\\-42\\
40\\-42\\38\\-40\\42\\-38\\40\\-36\\38\\-35\\
32\\-30\\31\\-29\\30\\-32\\29\\-30\\28\\-30\\
30\\-29\\31\\-28\\30\\-32\\29\\-30\\31\\-29\\
30\\-32\\34\\-36\\38\\-35\\32\\-30\\28\\-26\\
25\\-24\\26\\-25\\24\\-26\\25\\-24\\26\\-25\\
24\\-26\\25\\-24\\26\\-25\\24\\-26\\25\\-27\\
30\\-34\\36\\-35\\30\\-28\\25\\-24\\22\\-21\\
20\\-21\\19\\-20\\21\\-19\\20\\-18\\17\\-16\\
15\\-16\\14\\-15\\16\\-14\\15\\-13\\14\\-12\\
12\\-13\\12\\-11\\13\\-12\\11\\-12\\13\\-12\\
12\\-11\\13\\-12\\11\\-12\\13\\-11\\12\\-13\\
12\\-11\\13\\-12\\11\\-12\\13\\-12\\11\\-12\\
13\\-14\\15\\-16\\15\\-13\\12\\-11\\10\\-9\\
10\\-9\\10\\-11\\9\\-10\\9\\-10\\10\\-9\\
8\\-9\\8\\-7\\8\\-9\\7\\-8\\8\\-7\\
8\\-7\\8\\-9\\7\\-8\\8\\-7\\8\\-8\\
7\\-8\\8\\-7\\9\\-8\\7\\-8\\8\\-7\\
8\\-7\\8\\-8\\7\\-8\\8\\-7\\8\\-7\\
8\\-7\\8\\-8\\7\\-8\\7\\
-7\\6\\-8\\5\\-7\\6\\-5\\7\\-6\\8\\
-6\\7\\-5\\8\\-7\\6\\-8\\5\\-7\\6\\
-8\\5\\-7\\6\\-6\\8\\-5\\7\\-8\\6\\
-5\\7\\-6\\8\\-7\\5\\-6\\7\\-5\\8\\
-7\\6\\-8\\5\\-6\\7\\-8\\6\\-7\\5\\
-6\\8\\-5\\7\\-8\\6\\-7\\5\\-6\\7\\
-8\\6\\-7\\5\\-6\\8\\-5\\7\\-7\\6\\
-5\\7\\-8\\6\\-7\\5\\-6\\8\\-6\\7\\
-7\\5\\-6\\8\\-5\\7\\-8\\6\\-7\\5\\
-6\\8\\-7\\6\\-8\\5\\-7\\6\\-5\\7\\
-8\\6\\-5\\7\\-6\\8\\-7\\5\\-8\\6\\
-7\\5\\-8\\6\\-7\\6\\-5\\8\\-6\\7\\
-5\\7\\-6\\8\\-7\\5\\-8\\6\\-7\\6\\
}\sigL
\pgfplotstableread[header=false,row sep=\\]{
3\\-3\\20\\-50\\45\\-50\\40\\-45\\50\\-45\\
48\\-52\\58\\-65\\75\\-78\\60\\-50\\40\\-35\\
35\\-33\\32\\-30\\28\\-30\\32\\-28\\30\\-28\\
30\\-28\\29\\-30\\28\\-31\\30\\-28\\32\\-30\\
32\\-34\\35\\-33\\35\\-34\\32\\-36\\38\\-40\\
42\\-45\\44\\-40\\38\\-35\\32\\-30\\30\\-28\\
30\\-28\\29\\-30\\28\\-27\\30\\-29\\28\\-27\\
26\\-25\\24\\-26\\25\\-24\\26\\-23\\25\\-24\\
25\\-24\\26\\-25\\24\\-26\\25\\-24\\23\\-22\\
20\\-21\\19\\-20\\22\\-20\\19\\-21\\20\\-22\\
20\\-19\\21\\-20\\22\\-19\\20\\-21\\19\\-20\\
21\\-20\\19\\-22\\20\\-21\\19\\-20\\18\\-19\\
16\\-15\\17\\-16\\15\\-14\\16\\-15\\14\\-15\\
15\\-14\\16\\-15\\14\\-15\\16\\-14\\15\\-13\\
12\\-11\\13\\-12\\11\\-12\\11\\-10\\12\\-11\\
10\\-11\\9\\-10\\11\\-10\\9\\-10\\11\\-10\\
10\\-9\\11\\-10\\9\\-10\\11\\-9\\10\\-9\\
10\\-11\\10\\-9\\11\\-10\\9\\-10\\10\\-9\\
10\\-9\\11\\-10\\9\\-10\\10\\-9\\8\\-9\\
8\\-7\\8\\-9\\7\\-8\\8\\-7\\8\\-7\\
8\\-7\\8\\-8\\7\\-8\\7\\-8\\7\\-8\\
6\\-7\\6\\-5\\6\\-7\\6\\-5\\6\\-6\\
6\\-5\\6\\-7\\6\\-5\\6\\-6\\5\\-6\\
6\\-5\\6\\-6\\5\\-6\\5\\
-5\\4\\-6\\4\\-5\\5\\-4\\6\\-4\\5\\
-4\\6\\-5\\4\\-6\\5\\-4\\5\\-6\\4\\
-6\\4\\-5\\6\\-4\\5\\-5\\4\\-6\\5\\
-4\\5\\-6\\4\\-5\\6\\-4\\5\\-4\\6\\
-5\\6\\-4\\5\\-6\\4\\-5\\6\\-5\\4\\
-6\\4\\-5\\5\\-4\\6\\-5\\4\\-6\\5\\
-4\\6\\-5\\4\\-5\\5\\-6\\4\\-5\\6\\
-5\\4\\-6\\5\\-4\\5\\-5\\6\\-4\\5\\
-6\\5\\-4\\6\\-5\\4\\-6\\5\\-4\\5\\
-4\\5\\-6\\4\\-6\\5\\-4\\6\\-5\\4\\
-5\\6\\-4\\5\\-5\\4\\-6\\5\\-4\\6\\
-6\\4\\-5\\6\\-4\\5\\-5\\4\\-6\\5\\
-4\\5\\-6\\5\\-4\\6\\-5\\4\\-5\\6\\
}\sigM
\pgfplotstableread[header=false,row sep=\\]{
3\\-3\\25\\-35\\32\\-30\\35\\-40\\38\\-35\\
40\\-45\\55\\-65\\76\\-78\\60\\-50\\42\\-38\\
32\\-30\\31\\-29\\30\\-28\\29\\-30\\28\\-27\\
26\\-25\\24\\-26\\25\\-24\\26\\-23\\25\\-24\\
26\\-28\\27\\-29\\28\\-26\\28\\-30\\29\\-27\\
30\\-35\\42\\-50\\48\\-45\\38\\-32\\30\\-28\\
30\\-32\\35\\-40\\45\\-50\\48\\-42\\35\\-30\\
30\\-28\\31\\-29\\30\\-32\\29\\-30\\31\\-29\\
28\\-30\\29\\-27\\28\\-26\\25\\-22\\18\\-15\\
12\\-13\\12\\-11\\13\\-12\\11\\-12\\13\\-12\\
12\\-11\\13\\-12\\11\\-12\\13\\-12\\11\\-12\\
14\\-16\\18\\-20\\17\\-15\\13\\-12\\11\\-12\\
12\\-11\\13\\-12\\11\\-12\\12\\-11\\10\\-9\\
8\\-9\\8\\-7\\8\\-9\\7\\-8\\8\\-7\\
8\\-7\\8\\-9\\7\\-8\\8\\-7\\8\\-8\\
6\\-5\\6\\-7\\6\\-5\\6\\-6\\5\\-6\\
5\\-4\\5\\-5\\4\\-5\\5\\-4\\5\\-4\\
5\\-4\\5\\-5\\4\\-5\\6\\-5\\4\\-5\\
4\\-5\\4\\-5\\5\\-4\\5\\-4\\5\\-5\\
4\\-5\\6\\-7\\6\\-5\\4\\-5\\4\\-5\\
5\\-4\\5\\-4\\5\\-5\\4\\-5\\4\\-5\\
4\\-5\\5\\-4\\5\\-4\\5\\-5\\4\\-5\\
5\\-4\\5\\-4\\4\\-5\\5\\-4\\5\\-4\\
5\\-4\\5\\-5\\4\\-5\\4\\
-4\\3\\-5\\3\\-4\\4\\-3\\5\\-3\\4\\
-3\\5\\-4\\3\\-5\\4\\-3\\4\\-5\\3\\
-5\\3\\-4\\5\\-3\\4\\-4\\3\\-5\\4\\
-3\\4\\-5\\3\\-4\\5\\-3\\4\\-3\\5\\
-4\\5\\-3\\4\\-5\\3\\-4\\5\\-4\\3\\
-5\\3\\-4\\4\\-3\\5\\-4\\3\\-5\\4\\
-3\\5\\-4\\3\\-4\\4\\-5\\3\\-4\\5\\
-4\\3\\-5\\4\\-3\\4\\-4\\5\\-3\\4\\
-5\\4\\-3\\5\\-4\\3\\-5\\4\\-3\\4\\
-3\\4\\-5\\3\\-5\\4\\-3\\5\\-4\\3\\
-4\\5\\-3\\4\\-4\\3\\-5\\4\\-3\\5\\
-5\\3\\-4\\5\\-3\\4\\-4\\3\\-5\\4\\
-3\\4\\-5\\4\\-3\\5\\-4\\3\\-4\\5\\
}\sigN
\pgfplotstableread[header=false,row sep=\\]{
3\\-5\\45\\-42\\45\\-40\\35\\-40\\45\\-40\\
38\\-42\\45\\-55\\78\\-80\\60\\-45\\38\\-35\\
35\\-33\\36\\-34\\32\\-35\\30\\-28\\25\\-22\\
20\\-21\\19\\-20\\22\\-20\\19\\-21\\20\\-22\\
22\\-25\\28\\-30\\32\\-30\\28\\-25\\22\\-20\\
20\\-21\\19\\-20\\22\\-20\\19\\-21\\20\\-22\\
22\\-25\\30\\-35\\34\\-30\\25\\-18\\14\\-12\\
12\\-13\\12\\-11\\13\\-12\\11\\-12\\13\\-12\\
12\\-11\\13\\-12\\11\\-12\\13\\-12\\11\\-12\\
14\\-15\\14\\-13\\15\\-14\\13\\-15\\14\\-13\\
12\\-13\\12\\-11\\13\\-12\\11\\-12\\13\\-12\\
10\\-11\\10\\-9\\11\\-10\\9\\-10\\10\\-9\\
10\\-9\\11\\-10\\9\\-10\\10\\-9\\10\\-11\\
7\\-6\\6\\-7\\5\\-6\\6\\-5\\6\\-7\\
8\\-10\\11\\-10\\8\\-7\\6\\-5\\6\\-5\\
5\\-4\\5\\-5\\4\\-5\\5\\-4\\5\\-4\\
5\\-4\\5\\-5\\4\\-5\\5\\-4\\5\\-5\\
4\\-5\\5\\-4\\5\\-4\\5\\-5\\4\\-5\\
5\\-4\\5\\-6\\7\\-8\\7\\-6\\5\\-4\\
5\\-4\\5\\-5\\4\\-5\\5\\-4\\5\\-4\\
4\\-5\\5\\-4\\5\\-4\\5\\-5\\4\\-5\\
5\\-4\\5\\-4\\4\\-5\\5\\-4\\5\\-4\\
4\\-5\\4\\-4\\5\\-4\\5\\-4\\4\\-5\\
4\\-5\\5\\-4\\5\\-4\\4\\
-3\\4\\-5\\3\\-4\\5\\-3\\4\\-3\\5\\
-4\\3\\-5\\4\\-3\\4\\-4\\5\\-3\\4\\
-3\\5\\-4\\3\\-5\\4\\-3\\4\\-5\\3\\
-3\\4\\-5\\3\\-5\\4\\-3\\5\\-4\\3\\
-5\\3\\-4\\4\\-3\\5\\-4\\3\\-5\\4\\
-5\\3\\-4\\5\\-3\\4\\-4\\3\\-5\\4\\
-4\\3\\-5\\3\\-4\\4\\-3\\5\\-3\\4\\
-5\\4\\-3\\5\\-4\\3\\-5\\4\\-3\\4\\
-5\\3\\-4\\5\\-3\\4\\-4\\3\\-5\\4\\
-3\\4\\-5\\4\\-3\\5\\-4\\3\\-4\\5\\
-4\\5\\-3\\4\\-5\\3\\-4\\5\\-4\\3\\
-4\\5\\-3\\4\\-4\\3\\-5\\4\\-3\\5\\
-3\\5\\-4\\3\\-4\\4\\-5\\3\\-4\\5\\
}\sigO
\pgfplotstableread[header=false,row sep=\\]{
5\\-40\\45\\-40\\45\\-50\\45\\-40\\45\\-50\\
48\\-52\\55\\-65\\75\\-70\\60\\-50\\45\\-48\\
45\\-42\\46\\-44\\45\\-42\\40\\-38\\35\\-32\\
30\\-28\\31\\-29\\30\\-32\\29\\-30\\31\\-29\\
28\\-26\\25\\-24\\26\\-22\\25\\-24\\23\\-26\\
25\\-28\\30\\-32\\30\\-28\\26\\-24\\22\\-20\\
16\\-15\\14\\-16\\15\\-14\\16\\-15\\14\\-15\\
15\\-14\\16\\-15\\14\\-15\\16\\-14\\15\\-13\\
12\\-11\\13\\-12\\11\\-12\\13\\-11\\12\\-13\\
12\\-11\\13\\-12\\11\\-12\\13\\-12\\11\\-12\\
14\\-15\\16\\-14\\15\\-16\\14\\-15\\16\\-14\\
12\\-11\\13\\-12\\11\\-12\\13\\-11\\12\\-13\\
10\\-9\\11\\-10\\9\\-10\\11\\-10\\9\\-10\\
10\\-9\\10\\-11\\9\\-10\\9\\-10\\10\\-9\\
8\\-7\\8\\-9\\7\\-8\\8\\-7\\8\\-7\\
8\\-7\\8\\-8\\7\\-8\\7\\-8\\7\\-8\\
8\\-9\\8\\-7\\8\\-9\\7\\-8\\8\\-7\\
7\\-8\\8\\-7\\9\\-8\\7\\-8\\8\\-7\\
8\\-7\\8\\-8\\7\\-8\\8\\-7\\8\\-7\\
8\\-9\\7\\-8\\8\\-7\\8\\-9\\7\\-8\\
8\\-7\\8\\-10\\11\\-10\\9\\-8\\7\\-8\\
8\\-7\\8\\-8\\7\\-8\\8\\-7\\8\\-7\\
8\\-9\\7\\-8\\8\\-7\\8\\-8\\7\\-8\\
9\\-10\\11\\-9\\8\\-7\\8\\
-8\\7\\-9\\8\\-6\\9\\-8\\7\\-9\\8\\
-7\\9\\-8\\6\\-9\\8\\-7\\9\\-8\\7\\
-9\\8\\-7\\9\\-8\\6\\-9\\7\\-8\\9\\
-6\\8\\-9\\7\\-8\\9\\-7\\8\\-6\\9\\
-8\\7\\-9\\8\\-7\\9\\-8\\6\\-9\\7\\
-9\\6\\-8\\9\\-7\\8\\-9\\7\\-8\\9\\
-7\\9\\-8\\7\\-9\\6\\-8\\9\\-7\\8\\
-8\\7\\-6\\9\\-8\\7\\-9\\8\\-7\\9\\
-9\\8\\-7\\6\\-9\\8\\-7\\9\\-8\\7\\
-7\\9\\-8\\7\\-6\\9\\-8\\7\\-9\\8\\
-8\\6\\-9\\8\\-7\\9\\-8\\7\\-9\\6\\
-9\\8\\-7\\9\\-12\\14\\-15\\13\\-12\\10\\
-9\\7\\-8\\9\\-7\\8\\-9\\7\\-8\\6\\
}\sigP
\pgfplotstableread[header=false,row sep=\\]{
30\\-28\\30\\-32\\30\\-35\\38\\-40\\45\\-48\\
50\\-52\\55\\-60\\70\\-78\\65\\-55\\50\\-45\\
45\\-42\\40\\-38\\35\\-30\\25\\-22\\20\\-21\\
19\\-20\\21\\-19\\20\\-22\\21\\-20\\19\\-22\\
25\\-28\\32\\-38\\42\\-45\\40\\-35\\30\\-32\\
35\\-38\\42\\-45\\48\\-55\\50\\-45\\40\\-38\\
35\\-33\\36\\-34\\35\\-38\\36\\-34\\32\\-30\\
30\\-28\\29\\-30\\28\\-27\\30\\-29\\28\\-27\\
26\\-25\\24\\-26\\25\\-24\\26\\-23\\25\\-24\\
25\\-24\\26\\-25\\24\\-26\\25\\-24\\23\\-22\\
16\\-15\\14\\-16\\15\\-14\\16\\-15\\14\\-15\\
15\\-14\\16\\-15\\14\\-15\\16\\-14\\15\\-13\\
14\\-15\\14\\-13\\15\\-14\\13\\-15\\14\\-13\\
10\\-9\\11\\-10\\9\\-10\\11\\-10\\9\\-10\\
12\\-11\\13\\-12\\11\\-12\\13\\-11\\12\\-13\\
14\\-15\\14\\-13\\15\\-14\\13\\-15\\16\\-18\\
20\\-24\\25\\-22\\18\\-14\\12\\-10\\9\\-10\\
10\\-9\\11\\-10\\9\\-10\\11\\-9\\10\\-8\\
7\\-8\\7\\-6\\7\\-8\\6\\-7\\7\\-6\\
7\\-6\\8\\-7\\6\\-7\\7\\-6\\8\\-7\\
7\\-6\\7\\-8\\6\\-7\\7\\-6\\7\\-7\\
6\\-7\\7\\-6\\8\\-7\\6\\-7\\7\\-6\\
7\\-6\\7\\-7\\6\\-7\\8\\-6\\7\\-6\\
7\\-6\\7\\-8\\6\\-7\\6\\
-6\\7\\-5\\6\\-7\\5\\-6\\7\\-4\\6\\
-7\\5\\-6\\7\\-5\\6\\-7\\4\\-6\\5\\
-5\\6\\-7\\5\\-6\\7\\-4\\6\\-5\\7\\
-6\\4\\-7\\6\\-5\\7\\-6\\5\\-7\\4\\
-7\\6\\-5\\4\\-6\\5\\-7\\6\\-4\\6\\
-5\\7\\-6\\5\\-7\\4\\-6\\7\\-5\\6\\
-6\\5\\-4\\6\\-7\\6\\-5\\7\\-6\\4\\
-7\\6\\-5\\7\\-4\\6\\-6\\5\\-7\\6\\
-5\\4\\-6\\7\\-5\\6\\-7\\5\\-6\\7\\
-6\\7\\-5\\6\\-7\\4\\-5\\6\\-7\\5\\
-4\\6\\-7\\5\\-6\\7\\-5\\4\\-6\\6\\
-7\\5\\-6\\4\\-5\\6\\-7\\6\\-5\\7\\
-6\\6\\-5\\7\\-6\\5\\-4\\6\\-7\\5\\
}\sigQ

\pgfplotsset{
  panel/.style={
    scale only axis, width=1202.8bp, height=39.134bp, anchor=south west,
    xmin=1007.9, xmax=1364.6, ymin=-100, ymax=100,
    xtick={1050,1100,1150,1200,1250,1300,1350}, xticklabels={},
    xtick pos=both, ytick pos=both, tick align=inside,
    major tick length=3.5bp,
    tick style={black, line width=0.8bp},
    axis line style={black, line width=0.8bp},
    yticklabel style={anchor=east, inner sep=0pt, xshift=-4.3bp, font=\fontsize{10}{12}\selectfont},
    xticklabel style={anchor=north, inner sep=0pt, yshift=-4bp, font=\fontsize{10}{12}\selectfont},
    /pgf/number format/assume math mode=true,
  },
  yt/.style 2 args={ytick={-#1,0,#1}, yticklabels={-#2,0.0e+00,#2}},
}
\newcommand{\stn}[1]{\node[anchor=base west, inner sep=0pt, xshift=11.5bp, yshift=-9.3bp, font=\fontsize{10}{12}\selectfont] at (rel axis cs:0,1) {#1};}
\newcommand{\plin}[2]{\addplot[#2, draw opacity=0.5, line width=1.5bp, dash pattern=on 5.55bp off 2.4bp] coordinates {(#1,-100) (#1,100)};}
\newcommand{\plab}[3]{\node[anchor=base east, inner sep=0pt, xshift=-2.2bp, yshift=2.6bp, text=#2, text opacity=0.5, font=\fontsize{11}{13}\selectfont] at (axis cs:#1,-100) {#3};}
\newcommand{\phases}[5]{\plin{#1}{orng}\plin{#2}{blu}\plin{#3}{grn}\plin{#4}{grn}\plin{#5}{rd}%
  \plab{#1}{orng}{Pdiff}\plab{#2}{blu}{PKIKP}\plab{#3}{grn}{PKP}\plab{#4}{grn}{PKP}\plab{#5}{rd}{PKiKP}}
\newcommand{\wave}[2]{%
  \addplot[wf, line width=0.75bp, line join=round] table[x expr=1008+2*\coordindex, y index=0] {#1};
  \addplot[wf, line width=0.75bp, line join=round] table[x expr=1182+0.5*\coordindex, y index=0] {#2};}
\newcommand{\burst}[2]{%
  \addplot[wf, line width=0.75bp, line join=round] table[x expr=#1+0.5*\coordindex, y index=0] {#2};}

\begin{document}
\begin{tikzpicture}
\fontsize{10}{12}\selectfont
\path[use as bounding box] (0,0) rectangle (1368bp,792bp);

\begin{axis}[panel, at={(110.16bp,689.506bp)}, yt={90}{1.0e-06}]
\wave{\nPA}{\sigA}
\phases{1044.4}{1182.4}{1187.8}{1193.5}{1189.0}
\stn{R0B29 150.01° Kerdoualeh}
\end{axis}
\begin{axis}[panel, at={(110.16bp,650.372bp)}, yt={92}{2.0e-06}]
\wave{\nB}{\sigB}
\phases{1033.3}{1178.3}{1180.9}{1183.1}{1183.9}
\stn{DYA 147.49° Yadsworthy}
\end{axis}
\begin{axis}[panel, at={(110.16bp,611.238bp)}, yt={80}{1.0e-06}]
\wave{\nPC}{\sigC}
\phases{1033.3}{1178.3}{1180.9}{1183.1}{1183.9}
\stn{RD884 147.49° Constantine}
\end{axis}
\begin{axis}[panel, at={(110.16bp,572.104bp)}, yt={75}{1.0e-06}]
\wave{\nA}{\sigD}
\phases{1033.3}{1178.3}{1180.9}{1183.1}{1183.9}
\stn{R0B2D 147.48° Falmouth}
\end{axis}
\begin{axis}[panel, at={(110.16bp,532.97bp)}, yt={60}{2.5e+02}]
\wave{\nPE}{\sigE}
\phases{1033.3}{1178.3}{1180.9}{1183.1}{1183.9}
\stn{R6C10 147.47° Helston}
\end{axis}
\begin{axis}[panel, at={(110.16bp,493.836bp)}, yt={63}{5.0e-07}]
\wave{\nPF}{\sigF}
\burst{1010}{\bPF}
\phases{1033.3}{1178.3}{1180.9}{1183.1}{1183.9}
\stn{REE00 147.46° Penryn}
\end{axis}
\begin{axis}[panel, at={(110.16bp,454.702bp)}, yt={63}{1.0e-06}]
\wave{\nA}{\sigG}
\phases{1033.3}{1178.3}{1180.9}{1183.1}{1183.9}
\stn{S4BA9 147.42° Playing Place}
\end{axis}
\begin{axis}[panel, at={(110.16bp,415.568bp)}, yt={51}{5.0e-07}]
\wave{\nC}{\sigH}
\phases{1033.3}{1178.3}{1180.9}{1183.0}{1183.8}
\stn{CCA1 147.41° Carnmenellis}
\end{axis}
\begin{axis}[panel, at={(110.16bp,376.434bp)}, yt={76}{1.0e-06}]
\wave{\nC}{\sigI}
\phases{1033.3}{1178.3}{1180.9}{1183.0}{1183.8}
\stn{RB5E8 147.39° Penzance}
\end{axis}
\begin{axis}[panel, at={(110.16bp,337.3bp)}, yt={86}{2.0e-06}]
\wave{\nA}{\sigJ}
\phases{1032.9}{1178.3}{1180.7}{1182.9}{1183.6}
\stn{R7FA5 147.39° Truro School}
\end{axis}
\begin{axis}[panel, at={(110.16bp,298.166bp)}, yt={88}{2.0e-06}]
\wave{\nPK}{\sigK}
\burst{1110}{\bPK}
\phases{1032.9}{1178.3}{1180.7}{1182.9}{1183.6}
\stn{R0353 147.39° Penair}
\end{axis}
\begin{axis}[panel, at={(110.16bp,259.032bp)}, yt={85}{2.0e-06}]
\wave{\nPL}{\sigL}
\phases{1032.9}{1178.2}{1180.6}{1182.8}{1183.6}
\stn{SDF0E 147.38° Station Road}
\end{axis}
\begin{axis}[panel, at={(110.16bp,219.898bp)}, yt={65}{1.0e-06}]
\wave{\nA}{\sigM}
\phases{1032.8}{1178.1}{1180.6}{1182.7}{1183.5}
\stn{RAD67 147.38° St Day}
\end{axis}
\begin{axis}[panel, at={(110.16bp,180.764bp)}, yt={69}{2.5e-06}]
\wave{\nB}{\sigN}
\phases{1032.5}{1178.0}{1180.3}{1182.3}{1183.2}
\stn{RA2AC 147.29° St Newlyn East}
\end{axis}
\begin{axis}[panel, at={(110.16bp,141.63bp)}, yt={52}{2.5e-06}]
\wave{\nB}{\sigO}
\phases{1032.2}{1177.9}{1180.2}{1182.1}{1182.9}
\stn{RD232 147.24° Newquay}
\end{axis}
\begin{axis}[panel, at={(110.16bp,102.496bp)}, yt={62}{2.5e-06}]
\wave{\nPP}{\sigP}
\phases{1031.4}{1177.7}{1179.8}{1181.8}{1182.7}
\stn{R614C 147.14° Delabole 4D}
\end{axis}
\begin{axis}[panel, at={(110.16bp,63.362bp)}, yt={60}{2.5e-07},
  xticklabels={1050,1100,1150,1200,1250,1300,1350}]
\wave{\nA}{\sigQ}
\phases{1030.1}{1177.1}{1179.0}{1180.8}{1182.3}
\stn{HTL 146.85° Hartland}
\end{axis}

\node[anchor=base, inner sep=0pt] at (684bp,776.2bp) {M7.3 Tonga region 2022-11-11 10:48:45.102000};
\node[anchor=base, inner sep=0pt] at (684bp,764.9bp) {from the Raspberry Shake Network};
\node[anchor=base, inner sep=0pt] at (684bp,753.5bp) {depth: 24.797 km, distance: 16397.0 km.};
\node[rotate=90, anchor=center, inner sep=0pt] at (12.2bp,395.3bp) {Velocity [m/s]};
\node[anchor=base west, inner sep=0pt] at (14bp,10.8bp) {Channel: EHZ, filter: "bandpass", freqmin=1.3, freqmax=2.3, corners=4};
\node[anchor=base, inner sep=0pt] at (684bp,10.8bp) {Time since earthquake [s]};
\end{tikzpicture}
\end{document}
